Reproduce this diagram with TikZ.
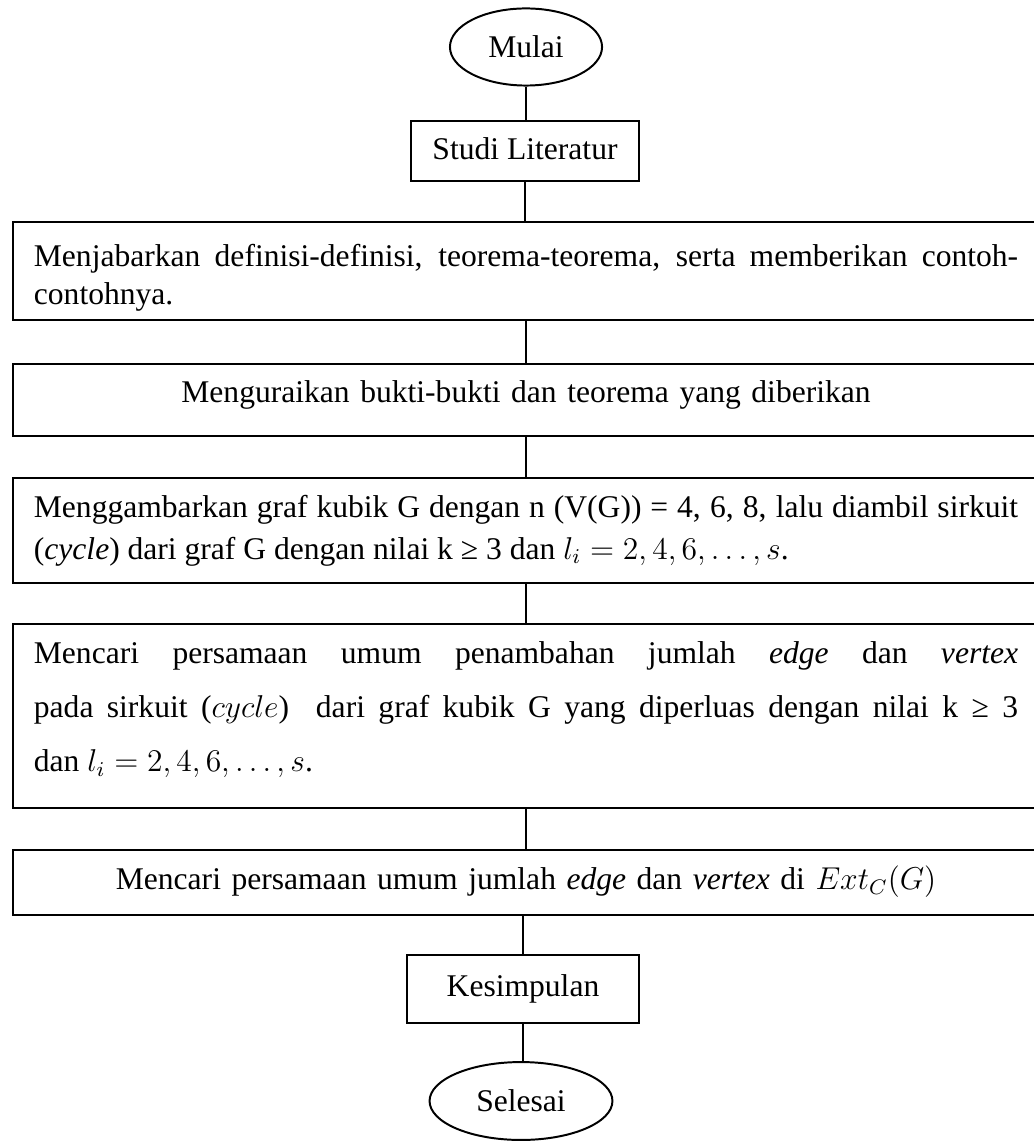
\documentclass[tikz,border=0pt]{standalone}
\usepackage{fontspec}
\setmainfont{Liberation Serif}
\usetikzlibrary{shapes,positioning,calc}
\setlength{\parindent}{0pt}

% struts for the space above the first and below the last line
\newcommand{\atas}[1]{\rule{0pt}{#1}}
\newcommand{\bawah}[1]{\rule[-#1]{0pt}{#1}}

\tikzset{
    terminal/.style={ellipse, draw, line width=0.75pt, inner sep=0pt},
    proses/.style={rectangle, draw, line width=0.75pt, inner sep=0pt, align=center, anchor=north},
    langkah/.style={rectangle, draw, line width=0.75pt, text width=374pt, inner xsep=8pt, inner ysep=0pt, align=justify, anchor=north},
    garis/.style={line width=0.55pt}
}

\begin{document}
\begin{tikzpicture}[x=0.38pt, y=-0.38pt, font=\fontsize{12}{14.4}\selectfont]
    \useasboundingbox (0,0) rectangle (1033,1142);

    \node[terminal, minimum width=57.8pt, minimum height=29.3pt] (mulai) at (526,47) {Mulai};
    \node[proses, minimum width=87pt] (studi) at (525,120) {\atas{14.8pt}Studi Literatur\bawah{8pt}};
    \node[langkah] (jabar) at (526,221) {\atas{17.1pt}Menjabarkan definisi-definisi, teorema-teorema, serta memberikan contoh-\linebreak contohnya.\bawah{5.7pt}};
    \node[langkah, align=center] (urai) at (526,363) {\atas{14.8pt}Menguraikan bukti-bukti dan teorema yang diberikan\bawah{12.5pt}};
    \node[langkah, font=\fontsize{12}{15.6}\selectfont] (gambar) at (526,477) {\atas{15.2pt}Menggambarkan graf kubik G dengan n (V(G)) = 4, 6, 8, lalu diambil sirkuit\linebreak (\emph{cycle}) dari graf G dengan nilai k ≥ 3 dan $l_i = 2, 4, 6, \dots, s$.\bawah{9.1pt}};
    \node[langkah, font=\fontsize{12}{20.5}\selectfont] (cari) at (526,623) {\atas{15.2pt}Mencari persamaan umum penambahan jumlah \emph{edge} dan \emph{vertex}\linebreak pada sirkuit ($cycle$)\ \ dari graf kubik G yang diperluas dengan nilai k ≥ 3\linebreak dan $l_i = 2, 4, 6, \dots, s$.\bawah{13.7pt}};
    \node[langkah, align=center] (ext) at (526,849) {\atas{15.2pt}Mencari persamaan umum jumlah \emph{edge} dan \emph{vertex} di $Ext_C(G)$\bawah{9.5pt}};
    \node[proses, minimum width=88pt] (simpul) at (523,954) {\atas{15.6pt}Kesimpulan\bawah{10.3pt}};
    \node[terminal, minimum width=69.5pt, minimum height=29.6pt] (selesai) at (521,1101) {Selesai};

    \draw[garis] (mulai.south) -- (mulai.south |- studi.north);
    \draw[garis] (studi.south) -- (studi.south |- jabar.north);
    \draw[garis] (jabar.south) -- (jabar.south |- urai.north);
    \draw[garis] (urai.south) -- (urai.south |- gambar.north);
    \draw[garis] (gambar.south) -- (gambar.south |- cari.north);
    \draw[garis] (cari.south) -- (cari.south |- ext.north);
    \draw[garis] (simpul.north |- ext.south) -- (simpul.north);
    \draw[garis] (simpul.south) -- (simpul.south |- selesai.north);
\end{tikzpicture}
\end{document}
